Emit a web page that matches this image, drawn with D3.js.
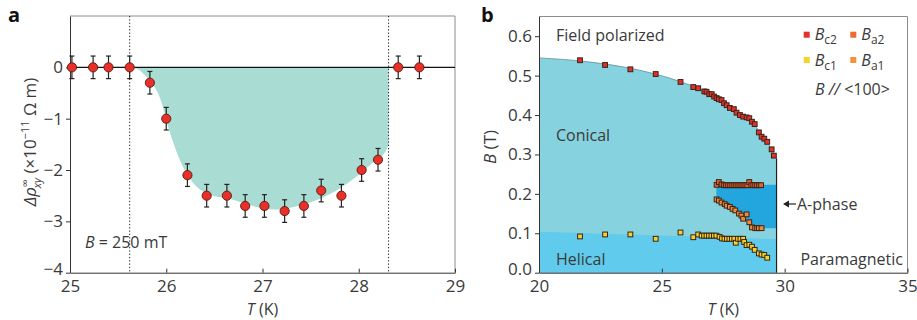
<!DOCTYPE html>
<html>
<head>
<meta charset="utf-8">
<script src="https://cdn.jsdelivr.net/npm/d3@7"></script>
<style>
  body { margin: 0; background: #fff; }
  svg { display: block; font-family: "Open Sans", sans-serif; }
</style>
</head>
<body>
<div id="chart"></div>
<script>
// ---- panel a: Hall resistivity vs temperature ----
const tA   = [25.02, 25.24, 25.40, 25.62, 25.83, 26.00, 26.22, 26.42, 26.63, 26.82, 27.02, 27.23, 27.43, 27.61, 27.82, 28.03, 28.20, 28.41, 28.63];
const rhoA = [0, 0, 0, 0, -0.3, -1.0, -2.1, -2.5, -2.5, -2.7, -2.7, -2.8, -2.7, -2.4, -2.5, -2.0, -1.8, 0, 0];
const errA = [0.22, 0.22, 0.22, 0.22, 0.22, 0.22, 0.22, 0.22, 0.22, 0.22, 0.22, 0.22, 0.22, 0.22, 0.22, 0.22, 0.22, 0.22, 0.22];
// shaded (A-phase) region outline
const shadeT   = [25.62, 25.70, 25.80, 25.94, 26.04, 26.14, 26.28, 26.45, 26.66, 26.90, 27.11, 27.30, 27.53, 27.75, 27.98, 28.15, 28.29, 28.31];
const shadeRho = [0, -0.03, -0.2, -0.62, -1.28, -1.8, -2.25, -2.48, -2.56, -2.7, -2.77, -2.73, -2.61, -2.42, -2.12, -1.85, -1.6, -1.5];
const dottedA = [25.62, 28.31];
const xTicksA = [25, 26, 27, 28, 29];
const yTicksA = [-4, -3, -2, -1, 0];

// ---- panel b: phase diagram ----
const bc2T = [21.67, 22.69, 23.72, 24.75, 25.76, 26.28, 26.48, 26.73, 26.82, 26.93, 27.03, 27.13, 27.23, 27.32, 27.43, 27.53, 27.64, 27.77, 27.93, 28.04, 28.18, 28.31, 28.45, 28.56, 28.67, 28.78, 28.95, 29.06, 29.17, 29.29, 29.47, 29.56];
const bc2B = [0.539, 0.527, 0.516, 0.504, 0.484, 0.471, 0.468, 0.460, 0.459, 0.453, 0.453, 0.447, 0.443, 0.440, 0.438, 0.430, 0.425, 0.418, 0.415, 0.406, 0.400, 0.396, 0.394, 0.392, 0.383, 0.377, 0.356, 0.345, 0.340, 0.332, 0.313, 0.297];
const ba2T = [27.23, 27.32, 27.43, 27.52, 27.60, 27.68, 27.76, 27.84, 27.92, 28.00, 28.08, 28.16, 28.24, 28.32, 28.40, 28.48, 28.56, 28.64, 28.72, 28.80, 28.88, 28.96, 29.04];
const ba2B = [0.223, 0.230, 0.224, 0.222, 0.222, 0.222, 0.222, 0.222, 0.222, 0.222, 0.222, 0.222, 0.222, 0.222, 0.222, 0.222, 0.230, 0.222, 0.222, 0.222, 0.222, 0.222, 0.222];
const ba1T = [27.23, 27.32, 27.43, 27.56, 27.64, 27.77, 27.88, 27.99, 28.14, 28.24, 28.31, 28.45, 28.56, 28.67, 28.80, 28.88, 28.95, 29.06];
const ba1B = [0.186, 0.183, 0.178, 0.174, 0.170, 0.167, 0.162, 0.158, 0.150, 0.145, 0.137, 0.148, 0.128, 0.115, 0.113, 0.113, 0.113, 0.113];
const bc1T = [21.67, 22.69, 23.72, 24.75, 25.76, 26.28, 26.48, 26.62, 26.72, 26.82, 26.92, 27.02, 27.12, 27.22, 27.35, 27.45, 27.55, 27.65, 27.75, 27.85, 27.95, 28.01, 28.10, 28.20, 28.31, 28.35, 28.45, 28.56, 28.67, 28.78, 28.95, 29.06, 29.17, 29.29];
const bc1B = [0.092, 0.097, 0.097, 0.086, 0.102, 0.090, 0.097, 0.094, 0.094, 0.094, 0.094, 0.094, 0.094, 0.094, 0.091, 0.087, 0.086, 0.086, 0.086, 0.086, 0.086, 0.076, 0.086, 0.086, 0.086, 0.078, 0.070, 0.071, 0.066, 0.058, 0.049, 0.046, 0.045, 0.038];
// phase boundaries
const conicalT = [20, 22, 24, 25.5, 26.5, 27.5, 28.3, 28.8, 29.2, 29.5, 29.67];
const conicalB = [0.545, 0.535, 0.515, 0.49, 0.467, 0.435, 0.398, 0.372, 0.338, 0.31, 0.29];
const helicalT = [20, 29.67];
const helicalB = [0.104, 0.085];
const aTopT = [27.22, 29.67];
const aTopB = [0.223, 0.223];
const aLowT = [27.22, 27.8, 28.3, 28.7, 29.67];
const aLowB = [0.19, 0.165, 0.14, 0.113, 0.113];
const tcB = 29.67;
const xTicksB = [20, 25, 30, 35];
const yTicksB = [0, 0.1, 0.2, 0.3, 0.4, 0.5, 0.6];

const textCol = "#3a3a3a";
const svg = d3.select("#chart").append("svg")
  .attr("width", 917)
  .attr("height", 320);

function styleAxis(g) {
  g.selectAll(".tick text")
    .attr("fill", textCol)
    .attr("font-size", 17)
    .attr("font-family", "Open Sans, sans-serif");
  g.selectAll("line, path").attr("stroke", "#333");
}

/* ================= panel a ================= */
const xA = d3.scaleLinear().domain([25, 29]).range([70, 455]);
const yA = d3.scaleLinear().domain([-4, 1]).range([272.7, 16]);
const gA = svg.append("g");

gA.append("path")
  .datum(d3.zip(shadeT, shadeRho))
  .attr("d", d3.area()
    .x(d => xA(d[0]))
    .y0(yA(0))
    .y1(d => yA(d[1]))
    .curve(d3.curveMonotoneX))
  .attr("fill", "#a9dcd3");

// frame top/right
gA.append("path")
  .attr("d", `M${xA(25)},${yA(1)}H${xA(29)}V${yA(-4)}`)
  .attr("fill", "none")
  .attr("stroke", "#8c8c8c")
  .attr("stroke-width", 1);

gA.selectAll(".dotted")
  .data(dottedA).enter()
  .append("line")
  .attr("x1", d => xA(d)).attr("x2", d => xA(d))
  .attr("y1", yA(1)).attr("y2", yA(-4))
  .attr("stroke", "#222")
  .attr("stroke-dasharray", "1.3,2")
  .attr("stroke-width", 1);

gA.append("line")
  .attr("x1", xA(25)).attr("x2", xA(29))
  .attr("y1", yA(0)).attr("y2", yA(0))
  .attr("stroke", "#111")
  .attr("stroke-width", 1.2);

gA.append("g")
  .attr("transform", `translate(0,${yA(-4)})`)
  .call(d3.axisBottom(xA).tickValues(xTicksA).tickSize(-4).tickSizeOuter(0).tickPadding(7)
    .tickFormat(d3.format("d")))
  .call(styleAxis);

gA.append("g")
  .attr("transform", `translate(${xA(25)},0)`)
  .call(d3.axisLeft(yA).tickValues(yTicksA).tickSize(4).tickSizeOuter(0).tickPadding(3)
    .tickFormat(d => d < 0 ? "\u2212" + Math.abs(d) : d))
  .call(styleAxis)
  .call(g => g.selectAll(".tick text").filter(d => d === -4).attr("dy", "0.1em"));

// error bars
const eb = gA.append("g").attr("stroke", "#222").attr("stroke-width", 1.2);
tA.forEach((t, i) => {
  const x = xA(t), y0 = yA(rhoA[i] - errA[i]), y1 = yA(rhoA[i] + errA[i]);
  eb.append("line").attr("x1", x).attr("x2", x).attr("y1", y0).attr("y2", y1);
  eb.append("line").attr("x1", x - 2.5).attr("x2", x + 2.5).attr("y1", y0).attr("y2", y0);
  eb.append("line").attr("x1", x - 2.5).attr("x2", x + 2.5).attr("y1", y1).attr("y2", y1);
});

gA.selectAll(".pt")
  .data(d3.zip(tA, rhoA)).enter()
  .append("circle")
  .attr("cx", d => xA(d[0]))
  .attr("cy", d => yA(d[1]))
  .attr("r", 4.6)
  .attr("fill", "#e8302a")
  .attr("stroke", "#5a1810")
  .attr("stroke-width", 0.9);

gA.append("text")
  .attr("x", 85).attr("y", 247.5)
  .attr("font-size", 16).attr("fill", textCol)
  .call(t => {
    t.append("tspan").attr("font-style", "italic").text("B");
    t.append("tspan").text(" = 250 mT");
  });

gA.append("text")
  .attr("x", xA(27)).attr("y", 315)
  .attr("text-anchor", "middle")
  .attr("font-size", 16).attr("fill", textCol)
  .call(t => {
    t.append("tspan").attr("font-style", "italic").text("T");
    t.append("tspan").text(" (K)");
  });

gA.append("text")
  .attr("transform", "translate(36,142) rotate(-90)")
  .attr("text-anchor", "middle")
  .attr("font-size", 17).attr("fill", textCol)
  .call(t => {
    t.append("tspan").attr("font-style", "italic").text("\u0394\u03c1");
    t.append("tspan").attr("font-size", 11).attr("dy", -7).text("\u221e");
    t.append("tspan").attr("font-size", 11).attr("font-style", "italic").attr("dx", -9).attr("dy", 12).text("xy");
    t.append("tspan").attr("dy", -5).text(" (\u00d710");
    t.append("tspan").attr("font-size", 11).attr("dy", -7).text("\u221211");
    t.append("tspan").attr("dy", 7).text(" \u03a9 m)");
  });

svg.append("text")
  .attr("x", 8).attr("y", 22)
  .attr("font-size", 20).attr("font-weight", "bold").attr("fill", "#111")
  .text("a");

/* ================= panel b ================= */
const xB = d3.scaleLinear().domain([20, 35]).range([539, 907.5]);
const yB = d3.scaleLinear().domain([0, 0.65]).range([272.7, 16.5]);
const gB = svg.append("g");

// conical (everything below Bc2)
gB.append("path")
  .datum(d3.zip(conicalT, conicalB))
  .attr("d", d3.area()
    .x(d => xB(d[0]))
    .y0(yB(0))
    .y1(d => yB(d[1]))
    .curve(d3.curveMonotoneX))
  .attr("fill", "#86d2df");

gB.append("path")
  .datum(d3.zip(conicalT, conicalB))
  .attr("d", d3.line()
    .x(d => xB(d[0]))
    .y(d => yB(d[1]))
    .curve(d3.curveMonotoneX))
  .attr("fill", "none")
  .attr("stroke", "#5f8f9a")
  .attr("stroke-width", 0.8);

gB.append("path")
  .datum(d3.zip(helicalT, helicalB))
  .attr("d", d3.area()
    .x(d => xB(d[0]))
    .y0(yB(0))
    .y1(d => yB(d[1])))
  .attr("fill", "#60cbec");

// A-phase pocket
const aPoly = d3.zip(aTopT, aTopB).concat(d3.zip(aLowT, aLowB).reverse());
gB.append("path")
  .attr("d", d3.line().x(d => xB(d[0])).y(d => yB(d[1]))(aPoly) + "Z")
  .attr("fill", "#22a6dd");

gB.append("line")
  .attr("x1", xB(tcB)).attr("x2", xB(tcB))
  .attr("y1", yB(0)).attr("y2", yB(0.29))
  .attr("stroke", "#222").attr("stroke-width", 1.2);

gB.append("path")
  .attr("d", `M${xB(20)},${yB(0.65)}H${xB(35)}V${yB(0)}`)
  .attr("fill", "none")
  .attr("stroke", "#8c8c8c")
  .attr("stroke-width", 1);

gB.append("g")
  .attr("transform", `translate(0,${yB(0)})`)
  .call(d3.axisBottom(xB).tickValues(xTicksB).tickSize(-4).tickSizeOuter(0).tickPadding(7))
  .call(styleAxis);

gB.append("g")
  .attr("transform", `translate(${xB(20)},0)`)
  .call(d3.axisLeft(yB).tickValues(yTicksB).tickSize(4).tickSizeOuter(0).tickPadding(3)
    .tickFormat(d3.format(".1f")))
  .call(styleAxis)
  .call(g => g.selectAll(".tick text").filter(d => d === 0).attr("dy", "0.1em"));

function squares(T, B, fill) {
  gB.append("g").selectAll("rect")
    .data(d3.zip(T, B)).enter()
    .append("rect")
    .attr("x", d => xB(d[0]) - 2.4)
    .attr("y", d => yB(d[1]) - 2.4)
    .attr("width", 4.8).attr("height", 4.8)
    .attr("fill", fill)
    .attr("stroke", "#3a2418")
    .attr("stroke-width", 1);
}
squares(bc1T, bc1B, "#f6d32a");
squares(ba1T, ba1B, "#f08a34");
squares(ba2T, ba2B, "#e9602a");
squares(bc2T, bc2B, "#e2302a");

// region labels
const lbl = (x, y, s, anchor) => gB.append("text")
  .attr("x", x).attr("y", y)
  .attr("text-anchor", anchor || "start")
  .attr("font-size", 16).attr("fill", textCol)
  .text(s);
lbl(556, 41, "Field polarized");
lbl(556, 141, "Conical");
lbl(556, 265, "Helical");
lbl(903, 265, "Paramagnetic", "end");
lbl(797, 210, "A-phase");

gB.append("line")
  .attr("x1", 786).attr("x2", 796)
  .attr("y1", 204).attr("y2", 204)
  .attr("stroke", "#222").attr("stroke-width", 1.2);
gB.append("path")
  .attr("d", "M783,204 L789,200.5 L789,207.5 Z")
  .attr("fill", "#222");

// legend
const legCol = ["#e2302a", "#ee6a30", "#f6d32a", "#f39238"];
const legSub = ["c2", "a2", "c1", "a1"];
const legX = [806.7, 853.3, 806.7, 853.3];
const legY = [34.7, 34.7, 60, 60];
legCol.forEach((c, i) => {
  gB.append("rect")
    .attr("x", legX[i] - 3).attr("y", legY[i] - 3)
    .attr("width", 6).attr("height", 6)
    .attr("fill", c);
  gB.append("text")
    .attr("x", legX[i] + 8).attr("y", legY[i] + 5.5)
    .attr("font-size", 16).attr("fill", textCol)
    .call(t => {
      t.append("tspan").attr("font-style", "italic").text("B");
      t.append("tspan").attr("font-size", 12).attr("dy", 4).text(legSub[i]);
    });
});
gB.append("text")
  .attr("x", 815).attr("y", 95)
  .attr("font-size", 16).attr("fill", textCol)
  .call(t => {
    t.append("tspan").attr("font-style", "italic").text("B //");
    t.append("tspan").text(" <100>");
  });

gB.append("text")
  .attr("x", xB(27.5)).attr("y", 315)
  .attr("text-anchor", "middle")
  .attr("font-size", 16).attr("fill", textCol)
  .call(t => {
    t.append("tspan").attr("font-style", "italic").text("T");
    t.append("tspan").text(" (K)");
  });

gB.append("text")
  .attr("transform", "translate(496,147) rotate(-90)")
  .attr("text-anchor", "middle")
  .attr("font-size", 17).attr("fill", textCol)
  .call(t => {
    t.append("tspan").attr("font-style", "italic").text("B");
    t.append("tspan").text(" (T)");
  });

svg.append("text")
  .attr("x", 481).attr("y", 22)
  .attr("font-size", 20).attr("font-weight", "bold").attr("fill", "#111")
  .text("b");
</script>
</body>
</html>
